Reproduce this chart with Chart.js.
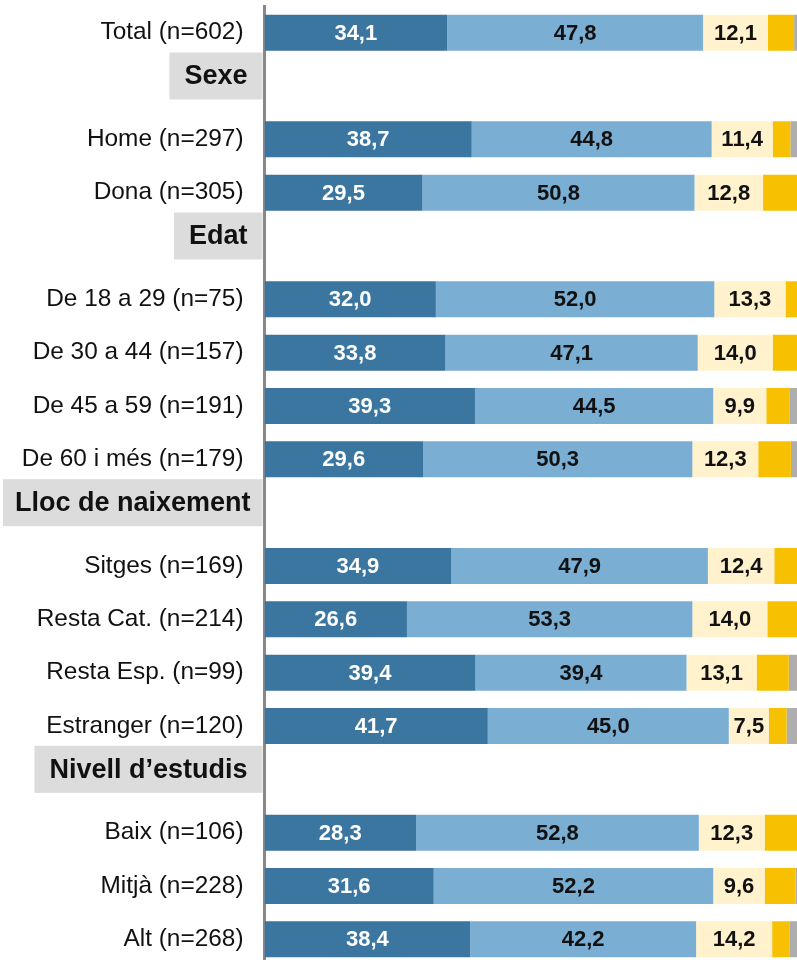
<!DOCTYPE html>
<html>
<head>
<meta charset="utf-8">
<script src="https://cdn.jsdelivr.net/npm/chart.js@4.4.1/dist/chart.umd.min.js"></script>
<style>
  html, body { margin: 0; padding: 0; background: #fff; overflow: hidden; }
  #wrap { width: 800px; height: 966px; }
</style>
</head>
<body>
<div id="wrap"><canvas id="c" width="800" height="966"></canvas></div>
<script>
// Categories (header rows are the group titles)
const categories = ['Total (n=602)', 'Sexe', 'Home (n=297)', 'Dona (n=305)', 'Edat',
  'De 18 a 29 (n=75)', 'De 30 a 44 (n=157)', 'De 45 a 59 (n=191)', 'De 60 i més (n=179)',
  'Lloc de naixement', 'Sitges (n=169)', 'Resta Cat. (n=214)', 'Resta Esp. (n=99)', 'Estranger (n=120)',
  'Nivell d’estudis', 'Baix (n=106)', 'Mitjà (n=228)', 'Alt (n=268)'];
const headers = ['Sexe', 'Edat', 'Lloc de naixement', 'Nivell d’estudis'];

// Series values (%)
const serie1 = [34.1, null, 38.7, 29.5, null, 32.0, 33.8, 39.3, 29.6, null, 34.9, 26.6, 39.4, 41.7, null, 28.3, 31.6, 38.4];
const serie2 = [47.8, null, 44.8, 50.8, null, 52.0, 47.1, 44.5, 50.3, null, 47.9, 53.3, 39.4, 45.0, null, 52.8, 52.2, 42.2];
const serie3 = [12.1, null, 11.4, 12.8, null, 13.3, 14.0, 9.9, 12.3, null, 12.4, 14.0, 13.1, 7.5, null, 12.3, 9.6, 14.2];
const serie4 = [4.9, null, 3.3, 6.9, null, 2.7, 5.1, 4.3, 6.1, null, 4.8, 6.1, 6.0, 3.3, null, 6.6, 5.8, 3.2];
const serie5 = [1.1, null, 1.8, 0, null, 0, 0, 2.0, 1.7, null, 0, 0, 2.1, 2.5, null, 0, 0.8, 2.0];

const colors = ['#3A76A0', '#7BAED3', '#FFF2CC', '#F7C000', '#AEAEAE'];
const labelColors = ['#ffffff', '#111111', '#111111'];
const FONT = "'Liberation Sans', Arial, sans-serif";

const headerPlugin = {
  id: 'headers',
  afterDraw(chart) {
    const ctx = chart.ctx;
    const y = chart.scales.y;
    ctx.save();
    ctx.font = 'bold 27px ' + FONT;
    ctx.textAlign = 'center';
    ctx.textBaseline = 'middle';
    categories.forEach((c, i) => {
      if (!headers.includes(c)) return;
      const cy = y.getPixelForValue(i) - 10;
      const tw = ctx.measureText(c).width;
      const right = chart.chartArea.left - 2;
      let w = tw + 30;
      let left = Math.max(3, right - w);
      w = right - left;
      ctx.fillStyle = '#DCDCDC';
      ctx.fillRect(left, cy - 23.5, w, 47);
      ctx.fillStyle = '#111111';
      ctx.fillText(c, left + w / 2, cy + 1);
    });
    ctx.restore();
  }
};

const valuePlugin = {
  id: 'values',
  afterDatasetsDraw(chart) {
    const ctx = chart.ctx;
    ctx.save();
    ctx.font = 'bold 22px ' + FONT;
    ctx.textAlign = 'center';
    ctx.textBaseline = 'middle';
    for (let d = 0; d < 3; d++) {
      const meta = chart.getDatasetMeta(d);
      meta.data.forEach((el, i) => {
        const v = chart.data.datasets[d].data[i];
        if (v === null || v === undefined) return;
        const cx = (el.x + el.base) / 2;
        ctx.fillStyle = labelColors[d];
        ctx.fillText(v.toFixed(1).replace('.', ','), cx, el.y + 1);
      });
    }
    ctx.restore();
  }
};

new Chart(document.getElementById('c'), {
  type: 'bar',
  data: {
    labels: categories,
    datasets: [serie1, serie2, serie3, serie4, serie5].map((s, k) => ({
      data: s,
      backgroundColor: colors[k],
      borderWidth: 0,
      categoryPercentage: 1,
      barPercentage: 0.675
    }))
  },
  options: {
    indexAxis: 'y',
    responsive: false,
    animation: false,
    layout: { padding: { top: 6, bottom: 0, left: 0, right: 0 } },
    plugins: { legend: { display: false }, tooltip: { enabled: false } },
    scales: {
      x: { display: false, stacked: true, min: 0, max: 100 },
      y: {
        stacked: true,
        z: 1,
        afterFit(scale) { scale.width = 264.5; scale.paddingTop = 0; scale.paddingBottom = 0; },
        grid: { display: false, drawTicks: true, tickLength: 21 },
        border: { display: true, color: '#888888', width: 3 },
        ticks: {
          padding: 0,
          color: '#111111',
          font: { family: FONT, size: 24.4 },
          autoSkip: false,
          callback(v, i) { const c = categories[i]; return headers.includes(c) ? '' : c; }
        }
      }
    }
  },
  plugins: [headerPlugin, valuePlugin]
});
</script>
</body>
</html>
